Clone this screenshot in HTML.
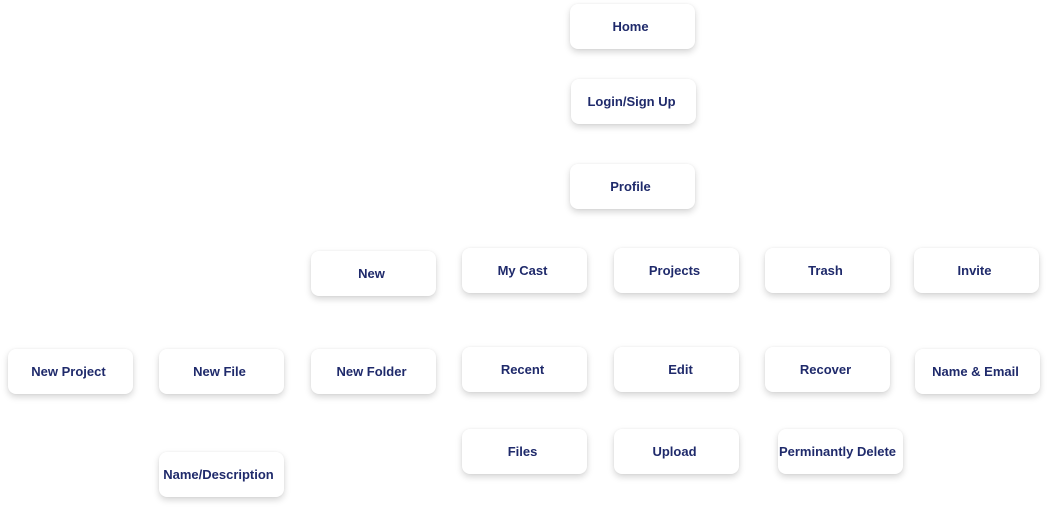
<!DOCTYPE html>
<html><head><meta charset="utf-8"><style>
html,body{margin:0;padding:0;background:#fff;}
body{width:1049px;height:510px;position:relative;overflow:hidden;font-family:"Liberation Sans",Arial,sans-serif;}
.b{position:absolute;width:125px;height:45px;box-sizing:border-box;padding-right:4px;background:#fff;border-radius:8px;box-shadow:0 3px 7px rgba(0,0,0,0.17),0 0 2px rgba(0,0,0,0.05);display:flex;align-items:center;justify-content:center;color:#1f2a6b;font-weight:bold;font-size:13px;white-space:nowrap;}
</style></head><body>
<div class="b" style="left:570px;top:4px">Home</div>
<div class="b" style="left:571px;top:79px">Login/Sign Up</div>
<div class="b" style="left:570px;top:164px">Profile</div>
<div class="b" style="left:311px;top:251px">New</div>
<div class="b" style="left:462px;top:248px">My Cast</div>
<div class="b" style="left:614px;top:248px">Projects</div>
<div class="b" style="left:765px;top:248px">Trash</div>
<div class="b" style="left:914px;top:248px">Invite</div>
<div class="b" style="left:8px;top:349px">New Project</div>
<div class="b" style="left:159px;top:349px">New File</div>
<div class="b" style="left:311px;top:349px">New Folder</div>
<div class="b" style="left:462px;top:347px">Recent</div>
<div class="b" style="left:614px;top:347px;padding-left:8px;padding-right:0">Edit</div>
<div class="b" style="left:765px;top:347px">Recover</div>
<div class="b" style="left:915px;top:349px">Name &amp; Email</div>
<div class="b" style="left:462px;top:429px">Files</div>
<div class="b" style="left:614px;top:429px">Upload</div>
<div class="b" style="left:778px;top:429px;padding-right:6px">Perminantly Delete</div>
<div class="b" style="left:159px;top:452px;padding-right:6px">Name/Description</div>
</body></html>
